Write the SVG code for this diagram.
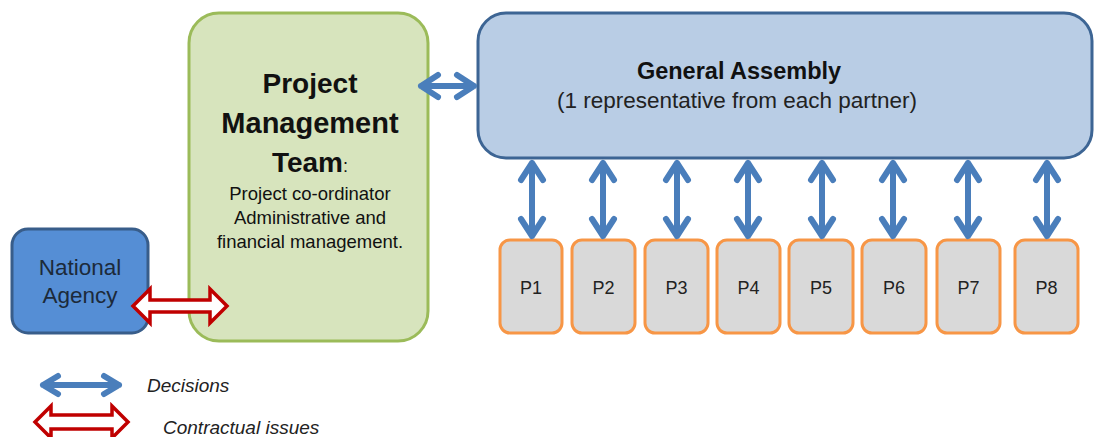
<svg xmlns="http://www.w3.org/2000/svg" width="1094" height="437" viewBox="0 0 1094 437">
<style>
text{font-family:"Liberation Sans",Arial,sans-serif;text-anchor:middle}
.t{fill:#111}
.dec{stroke:#4a7ebb;stroke-width:6;fill:none;stroke-linecap:round;stroke-linejoin:round}
.con{stroke:#c00000;stroke-width:3.5;fill:#fff;stroke-linejoin:miter}
.p rect{fill:#d9d9d9;stroke:#f79646;stroke-width:3}
.p text{font-size:18px;fill:#222}
</style>
<rect width="1094" height="437" fill="#fff"/>
<g id="pmt">
<rect x="189" y="13" width="239" height="328" rx="30" fill="#d7e4bd" stroke="#9bbb59" stroke-width="3"/>
<text class="t" x="310" y="93" font-size="28" font-weight="bold">Project</text>
<text class="t" x="310" y="133" font-size="29" font-weight="bold">Management</text>
<text class="t" x="310" y="172"><tspan font-size="28" font-weight="bold">Team</tspan><tspan font-size="18">:</tspan></text>
<text class="t" x="310" y="200" font-size="18.5">Project co-ordinator</text>
<text class="t" x="310" y="224" font-size="18.5">Administrative and</text>
<text class="t" x="310" y="248" font-size="18.5">financial management.</text>
</g>
<g id="national-agency">
<rect x="12" y="229" width="136" height="104" rx="16" fill="#558ed5" stroke="#385d8a" stroke-width="3"/>
<text x="80" y="275" font-size="22.5" fill="#1c2a3a">National</text>
<text x="80" y="303" font-size="22.5" fill="#1c2a3a">Agency</text>
</g>
<g id="general-assembly">
<rect x="478" y="13" width="614" height="145" rx="28" fill="#b9cde5" stroke="#3d6594" stroke-width="3"/>
<text class="t" x="739" y="79" font-size="23.5" font-weight="bold">General Assembly</text>
<text x="737" y="108" font-size="22.5" fill="#222">(1 representative from each partner)</text>
</g>
<g id="p1" class="p"><rect x="500" y="240" width="62" height="93" rx="10"/><text x="531" y="294">P1</text></g>
<g id="p2" class="p"><rect x="572" y="240" width="63" height="93" rx="10"/><text x="603.5" y="294">P2</text></g>
<g id="p3" class="p"><rect x="645" y="240" width="63" height="93" rx="10"/><text x="676.5" y="294">P3</text></g>
<g id="p4" class="p"><rect x="717" y="240" width="63" height="93" rx="10"/><text x="748.5" y="294">P4</text></g>
<g id="p5" class="p"><rect x="789" y="240" width="64" height="93" rx="10"/><text x="821" y="294">P5</text></g>
<g id="p6" class="p"><rect x="862" y="240" width="64" height="93" rx="10"/><text x="894" y="294">P6</text></g>
<g id="p7" class="p"><rect x="937" y="240" width="63" height="93" rx="10"/><text x="968.5" y="294">P7</text></g>
<g id="p8" class="p"><rect x="1015" y="240" width="63" height="93" rx="10"/><text x="1046.5" y="294">P8</text></g>
<g id="connectors">
<path class="dec" d="M421,86 H474 M438,75 L421,86 L438,97 M457,75 L474,86 L457,97"/>
<path class="dec" d="M532,163 V236 M521,180 L532,163 L543,180 M521,219 L532,236 L543,219"/>
<path class="dec" d="M603,163 V236 M592,180 L603,163 L614,180 M592,219 L603,236 L614,219"/>
<path class="dec" d="M677,163 V236 M666,180 L677,163 L688,180 M666,219 L677,236 L688,219"/>
<path class="dec" d="M748,163 V236 M737,180 L748,163 L759,180 M737,219 L748,236 L759,219"/>
<path class="dec" d="M822,163 V236 M811,180 L822,163 L833,180 M811,219 L822,236 L833,219"/>
<path class="dec" d="M893,163 V236 M882,180 L893,163 L904,180 M882,219 L893,236 L904,219"/>
<path class="dec" d="M968,163 V236 M957,180 L968,163 L979,180 M957,219 L968,236 L979,219"/>
<path class="dec" d="M1047,163 V236 M1036,180 L1047,163 L1058,180 M1036,219 L1047,236 L1058,219"/>
<polygon class="con" points="133,306 150,289 150,300 210,300 210,289 227,306 210,323 210,312 150,312 150,323"/>
</g>
<g id="legend">
<path class="dec" d="M43,385 H119 M58,376 L43,385 L58,394 M104,376 L119,385 L104,394"/>
<text x="147" y="392" font-size="19" font-style="italic" fill="#222" style="text-anchor:start">Decisions</text>
<polygon class="con" points="35,422 51,406 51,415 112,415 112,406 128,422 112,438 112,429 51,429 51,438"/>
<text x="163" y="434" font-size="19" font-style="italic" fill="#222" style="text-anchor:start">Contractual issues</text>
</g>
</svg>
